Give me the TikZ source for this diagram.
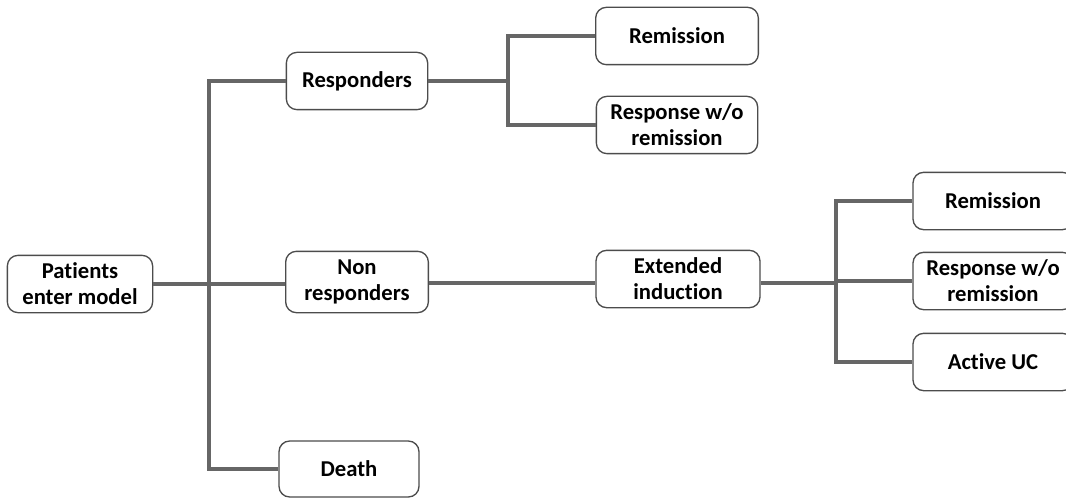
\documentclass[tikz,border=0pt]{standalone}
\usepackage{fontspec}
\setmainfont{Carlito}[Ligatures=NoCommon]
\usepackage{tikz}
\usetikzlibrary{calc}

\begin{document}
\begin{tikzpicture}[x=0.75pt, y=-0.75pt,
  box/.style={draw=black!70, line width=1pt, rounded corners=8pt, fill=white,
    align=center, font=\fontsize{17}{19.5}\selectfont\bfseries,
    minimum height=43pt, inner sep=1pt},
  link/.style={draw=black!60, line width=2.3pt}]
  \useasboundingbox (0,0) rectangle (1066,499);
  \clip (0,0) rectangle (1066,499);

  % --- boxes ---
  \node[box, minimum width=109pt] (pat) at (80,284) {Patients\\enter model};
  \node[box, minimum width=106pt] (resp) at (357,81) {Responders};
  \node[box, minimum width=107pt, minimum height=46pt] (nonresp) at (357,282) {Non\\responders};
  \node[box, minimum width=105pt, minimum height=42pt] (death) at (349,469) {Death};
  \node[box, minimum width=122pt] (remA) at (677,36) {Remission};
  \node[box, minimum width=121pt] (rwoA) at (677,125) {Response w/o\\remission};
  \node[box, minimum width=123pt] (ext) at (678,279) {Extended\\induction};
  \node[box, minimum width=120pt] (remB) at (993,201) {Remission};
  \node[box, minimum width=120pt] (rwoB) at (993,281) {Response w/o\\remission};
  \node[box, minimum width=120pt] (auc) at (993,362) {Active UC};

  % --- split points ---
  \coordinate (split) at (209,284);
  \coordinate (rsplit) at (508,81);
  \coordinate (esplit) at (836,283);

  % --- connectors ---
  \draw[link] (pat.east |- split) -- (split) -- (split -| nonresp.west);
  \draw[link] (resp.west) -| (split) |- (death.west);
  \draw[link] (nonresp.east |- esplit) -- (esplit -| ext.west);
  \draw[link] (resp.east) -- (rsplit);
  \draw[link] (remA.west) -| (rsplit) |- (rwoA.west);
  \draw[link] (ext.east |- esplit) -- (esplit) |- (rwoB.west);
  \draw[link] (remB.west) -| (esplit) |- (auc.west);
\end{tikzpicture}
\end{document}
